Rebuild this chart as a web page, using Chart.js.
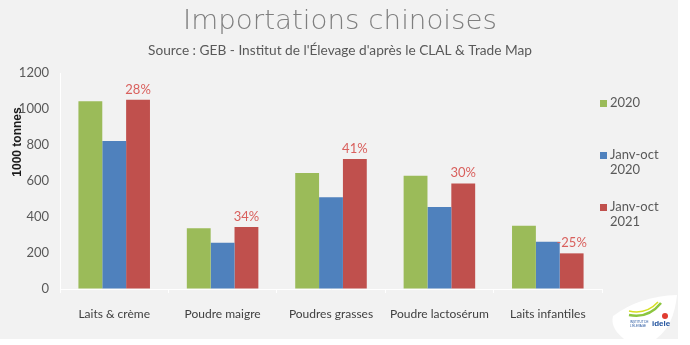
<!DOCTYPE html>
<html>
<head>
<meta charset="utf-8">
<script src="https://cdn.jsdelivr.net/npm/chart.js@4/dist/chart.umd.min.js"></script>
<style>
  html, body { margin: 0; padding: 0; background: #ffffff; }
  #wrap { width: 690px; height: 345px; position: relative; }
</style>
</head>
<body>
<div id="wrap"><canvas id="c" width="690" height="345"></canvas></div>
<script>
// Chinese dairy imports, thousand tonnes
const categories = ['Laits & crème', 'Poudre maigre', 'Poudres grasses', 'Poudre lactosérum', 'Laits infantiles'];
const seriesLabels = ['2020', ['Janv-oct', '2020'], ['Janv-oct', '2021']];
const imports2020 = [1043, 337, 644, 629, 352];
const janOct2020 = [822, 257, 510, 456, 262];
const janOct2021 = [1051, 344, 722, 586, 198];
// Change Jan-Oct 2021 vs Jan-Oct 2020, in percent
const growthPct = [28, 34, 41, 30, -25];
const yTicks = [0, 200, 400, 600, 800, 1000, 1200];

const titleText = 'Importations chinoises';
const subtitleText = "Source : GEB - Institut de l'Élevage d'après le CLAL & Trade Map";

const colors = ['#9bbb59', '#4f81bd', '#c0504d'];
const FONT = 'Lato, "DejaVu Sans", sans-serif';

// draws a line of text centred on cx, stretched to a given width
function fitText(ctx, text, cx, baseline, width, font, color) {
  ctx.save();
  ctx.font = font;
  ctx.fillStyle = color;
  ctx.textAlign = 'left';
  ctx.textBaseline = 'alphabetic';
  const w = ctx.measureText(text).width;
  const k = width / w;
  ctx.translate(cx - width / 2, baseline);
  ctx.scale(k, 1);
  ctx.fillText(text, 0, 0);
  ctx.restore();
}

const panelPlugin = {
  id: 'panel',
  beforeDraw(chart) {
    const ctx = chart.ctx;
    ctx.save();
    ctx.fillStyle = '#ffffff';
    ctx.fillRect(0, 0, chart.width, chart.height);
    ctx.fillStyle = '#f2f2f2';
    ctx.fillRect(0, 0, 678, 339);
    ctx.restore();
  },
  afterDraw(chart) {
    const ctx = chart.ctx;

    // headings
    fitText(ctx, titleText, 340, 29, 314, '200 27px "DejaVu Sans", sans-serif', '#7f7f7f');
    fitText(ctx, subtitleText, 340, 55, 384, '12.5px ' + FONT, '#595959');

    ctx.save();
    // rotated y-axis caption
    ctx.translate(18, 142);
    ctx.rotate(-Math.PI / 2);
    ctx.fillStyle = '#1a1a1a';
    ctx.font = 'bold 12px "Liberation Sans", Arial, sans-serif';
    ctx.textAlign = 'center';
    ctx.textBaseline = 'middle';
    ctx.fillText('1000 tonnes', 0, 0);
    ctx.restore();

    // growth labels above the Jan-Oct 2021 bars
    const meta = chart.getDatasetMeta(2);
    ctx.save();
    ctx.fillStyle = '#d9605d';
    ctx.font = '13px ' + FONT;
    ctx.textAlign = 'center';
    ctx.textBaseline = 'bottom';
    meta.data.forEach((bar, i) => {
      const g = growthPct[i];
      const txt = (g < 0 ? '-' : '') + Math.abs(g) + '%';
      ctx.fillText(txt, bar.x, bar.y - 4);
    });
    ctx.restore();

    // legend on the right
    ctx.save();
    ctx.font = '13px ' + FONT;
    ctx.textBaseline = 'middle';
    ctx.textAlign = 'left';
    const rows = [103, 155, 207];
    chart.data.datasets.forEach((ds, i) => {
      const lines = Array.isArray(ds.label) ? ds.label : [ds.label];
      const y = rows[i];
      ctx.fillStyle = ds.backgroundColor;
      ctx.fillRect(600, y - 3, 7, 7);
      ctx.fillStyle = '#595959';
      lines.forEach((ln, k) => ctx.fillText(ln, 610, y + k * 15));
    });
    ctx.restore();

    // institute badge, bottom right
    ctx.save();
    ctx.fillStyle = '#ffffff';
    ctx.beginPath();
    ctx.moveTo(613, 316);
    ctx.quadraticCurveTo(640, 296, 677, 295);
    ctx.quadraticCurveTo(674, 326, 656, 339);
    ctx.lineTo(624, 339);
    ctx.quadraticCurveTo(610, 328, 613, 316);
    ctx.fill();
    ctx.strokeStyle = '#8cc63f';
    ctx.lineWidth = 2.5;
    ctx.beginPath();
    ctx.moveTo(629, 315);
    ctx.quadraticCurveTo(648, 319, 661, 303);
    ctx.stroke();
    ctx.strokeStyle = '#d6df23';
    ctx.lineWidth = 1.5;
    ctx.beginPath();
    ctx.moveTo(629, 311);
    ctx.quadraticCurveTo(646, 315, 658, 302);
    ctx.stroke();
    ctx.fillStyle = '#e03c31';
    ctx.beginPath();
    ctx.arc(665, 316, 3, 0, Math.PI * 2);
    ctx.fill();
    ctx.fillStyle = '#1d4f9c';
    ctx.font = 'bold 8px "Liberation Sans", Arial, sans-serif';
    ctx.textAlign = 'left';
    ctx.textBaseline = 'middle';
    ctx.fillText('idele', 652, 324);
    ctx.font = '3px "Liberation Sans", Arial, sans-serif';
    ctx.fillText('INSTITUT DE', 630, 322);
    ctx.fillText("L'ÉLEVAGE", 630, 326);
    ctx.restore();
  }
};

new Chart(document.getElementById('c'), {
  type: 'bar',
  data: {
    labels: categories,
    datasets: [
      { label: seriesLabels[0], data: imports2020, backgroundColor: colors[0] },
      { label: seriesLabels[1], data: janOct2020, backgroundColor: colors[1] },
      { label: seriesLabels[2], data: janOct2021, backgroundColor: colors[2] }
    ]
  },
  options: {
    responsive: false,
    animation: false,
    devicePixelRatio: 1,
    layout: { padding: { left: 0, right: 88, top: 73, bottom: 0 } },
    datasets: { bar: { categoryPercentage: 0.66, barPercentage: 1.0 } },
    plugins: {
      legend: { display: false },
      tooltip: { enabled: false },
      title: { display: false },
      subtitle: { display: false }
    },
    scales: {
      x: {
        grid: { display: true, drawOnChartArea: false, color: '#ffffff', tickLength: 4, offset: true },
        border: { display: true, color: '#ffffff', width: 1 },
        ticks: { color: '#404040', font: { family: FONT, size: 12 }, padding: 14, maxRotation: 0 },
        afterFit(s) { s.height = 56; }
      },
      y: {
        min: 0,
        max: 1200,
        afterBuildTicks(s) { s.ticks = yTicks.map(v => ({ value: v })); },
        grid: { display: true, drawOnChartArea: false, color: '#ffffff', tickLength: 0 },
        border: { display: true, color: '#ffffff', width: 1 },
        ticks: { color: '#595959', font: { family: FONT, size: 13 }, padding: 11, callback: v => String(v) },
        afterFit(s) { s.width = 60; }
      }
    }
  },
  plugins: [panelPlugin]
});
</script>
</body>
</html>
